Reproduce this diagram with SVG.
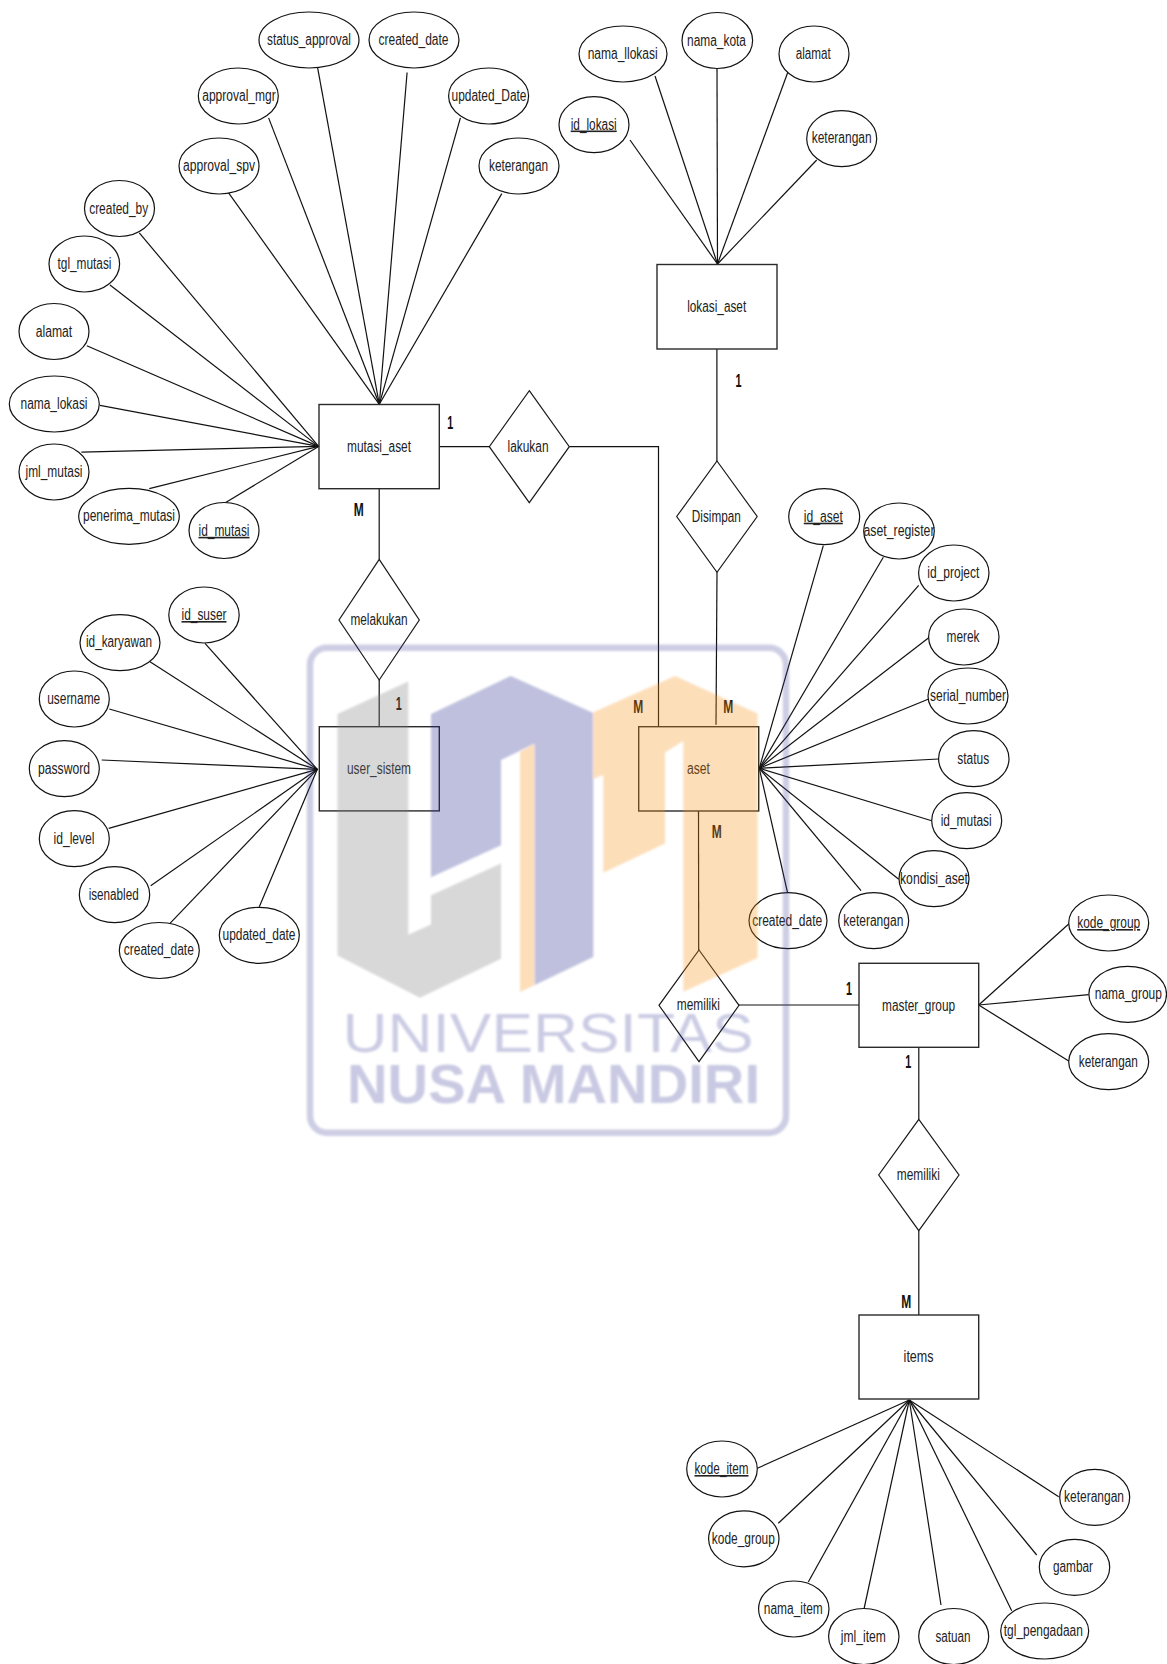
<svg xmlns="http://www.w3.org/2000/svg" width="1167" height="1664" viewBox="0 0 1167 1664">
<style>
.bg{fill:#fff}
.e{fill:#fff;stroke:#111;stroke-width:1.2}
.r{fill:#fff;stroke:#2a2a2a;stroke-width:1.4}
.d{fill:#fff;stroke:#1a1a1a;stroke-width:1.2}
.c line,.c polyline{fill:none;stroke:#111;stroke-width:1.2}
text{font-family:"Liberation Sans",Arial,sans-serif;font-size:16px;fill:#222;text-anchor:middle}
.u{text-decoration:underline}
.k{font-weight:700;font-size:18px;fill:#111}
</style>
<defs><filter id="soft" x="-2%" y="-2%" width="104%" height="104%"><feGaussianBlur stdDeviation="0.8"/></filter></defs>
<rect class="bg" width="1167" height="1664"/>
<g id="connectors" class="c">
<line x1="228.6" y1="192.9" x2="379.3" y2="404.3"/>
<line x1="268.6" y1="117.9" x2="379.3" y2="404.3"/>
<line x1="317.5" y1="67.1" x2="379.3" y2="404.3"/>
<line x1="407.1" y1="72.5" x2="379.3" y2="404.3"/>
<line x1="460.4" y1="117.9" x2="379.3" y2="404.3"/>
<line x1="501.8" y1="193.6" x2="379.3" y2="404.3"/>
<line x1="139.3" y1="232.9" x2="318.6" y2="446.4"/>
<line x1="110" y1="285" x2="318.6" y2="446.4"/>
<line x1="86.8" y1="345.7" x2="318.6" y2="446.4"/>
<line x1="100" y1="405.4" x2="318.6" y2="446.4"/>
<line x1="81.4" y1="452.1" x2="318.6" y2="446.4"/>
<line x1="149.3" y1="488.6" x2="318.6" y2="446.4"/>
<line x1="225.7" y1="502.5" x2="318.6" y2="446.4"/>
<line x1="630" y1="140" x2="717.5" y2="264"/>
<line x1="655" y1="76" x2="717.5" y2="264"/>
<line x1="717" y1="69" x2="717.5" y2="264"/>
<line x1="789" y1="69" x2="717.5" y2="264"/>
<line x1="816.7" y1="160" x2="717.5" y2="264"/>
<line x1="823.3" y1="545.7" x2="759.3" y2="768.3"/>
<line x1="883.3" y1="557.3" x2="759.3" y2="768.3"/>
<line x1="918.7" y1="585.3" x2="759.3" y2="768.3"/>
<line x1="928.7" y1="637.7" x2="759.3" y2="768.3"/>
<line x1="928.7" y1="699" x2="759.3" y2="768.3"/>
<line x1="938.7" y1="759" x2="759.3" y2="768.3"/>
<line x1="931.7" y1="820.7" x2="759.3" y2="768.3"/>
<line x1="898.7" y1="879.3" x2="759.3" y2="768.3"/>
<line x1="861" y1="890.7" x2="759.3" y2="768.3"/>
<line x1="787.7" y1="893.3" x2="759.3" y2="768.3"/>
<line x1="205" y1="643.3" x2="317.3" y2="769.3"/>
<line x1="150" y1="661.7" x2="317.3" y2="769.3"/>
<line x1="109.3" y1="709" x2="317.3" y2="769.3"/>
<line x1="101.7" y1="760" x2="317.3" y2="769.3"/>
<line x1="108.7" y1="828.3" x2="317.3" y2="769.3"/>
<line x1="150.7" y1="885.7" x2="317.3" y2="769.3"/>
<line x1="170" y1="923.3" x2="317.3" y2="769.3"/>
<line x1="259.3" y1="906.7" x2="317.3" y2="769.3"/>
<line x1="978.7" y1="1005" x2="1068.7" y2="924"/>
<line x1="978.7" y1="1005" x2="1088.7" y2="994.7"/>
<line x1="978.7" y1="1005" x2="1068.7" y2="1061"/>
<line x1="909.3" y1="1400" x2="757.3" y2="1468.3"/>
<line x1="909.3" y1="1400" x2="778.3" y2="1523.3"/>
<line x1="909.3" y1="1400" x2="808.3" y2="1582"/>
<line x1="909.3" y1="1400" x2="864" y2="1609"/>
<line x1="909.3" y1="1400" x2="941" y2="1605"/>
<line x1="909.3" y1="1400" x2="1011.7" y2="1610.7"/>
<line x1="909.3" y1="1400" x2="1036.7" y2="1555"/>
<line x1="909.3" y1="1400" x2="1058.7" y2="1496.7"/>
<line x1="439.3" y1="446.7" x2="489.3" y2="446.7"/>
<polyline points="569.3,446.7 658.5,446.7 658.5,726.7"/>
<line x1="379.2" y1="488.7" x2="379.2" y2="559.3"/>
<line x1="379.2" y1="680" x2="379.2" y2="726.7"/>
<line x1="716.9" y1="349" x2="716.9" y2="461"/>
<line x1="717" y1="572.3" x2="716" y2="724.7"/>
<line x1="698.5" y1="811" x2="698.7" y2="950"/>
<line x1="739" y1="1005" x2="859" y2="1005"/>
<line x1="918.8" y1="1047.3" x2="918.8" y2="1119.3"/>
<line x1="918.8" y1="1230.7" x2="918.8" y2="1315"/>
</g>
<g id="mutasi_aset"><rect class="r" x="319" y="404.5" width="120.3" height="84.2"/><text x="379" y="451.8" textLength="64" lengthAdjust="spacingAndGlyphs">mutasi_aset</text></g>
<g id="lokasi_aset"><rect class="r" x="657" y="264.5" width="120" height="84.5"/><text x="716.7" y="311.5" textLength="59" lengthAdjust="spacingAndGlyphs">lokasi_aset</text></g>
<g id="user_sistem"><rect class="r" x="319.3" y="726.7" width="120" height="84.2"/><text x="379" y="774" textLength="64" lengthAdjust="spacingAndGlyphs">user_sistem</text></g>
<g id="aset"><rect class="r" x="638.7" y="726.7" width="120" height="84.3"/><text x="698.5" y="774" textLength="23" lengthAdjust="spacingAndGlyphs">aset</text></g>
<g id="master_group"><rect class="r" x="859" y="963.3" width="119.7" height="84"/><text x="918.6" y="1010.5" textLength="73" lengthAdjust="spacingAndGlyphs">master_group</text></g>
<g id="items"><rect class="r" x="859" y="1315" width="119.7" height="84"/><text x="918.6" y="1362" textLength="30" lengthAdjust="spacingAndGlyphs">items</text></g>
<g id="rel_lakukan"><polygon class="d" points="529.3,390.7 569.3,446.7 529.3,502.7 489.3,446.7"/><text x="528" y="452" textLength="41" lengthAdjust="spacingAndGlyphs">lakukan</text></g>
<g id="rel_melakukan"><polygon class="d" points="379.2,559.3 419.3,620 379.2,680 339,620"/><text x="379" y="625.3" textLength="57" lengthAdjust="spacingAndGlyphs">melakukan</text></g>
<g id="rel_disimpan"><polygon class="d" points="717,461 757.2,516.5 717,572.3 676.7,516.5"/><text x="716.3" y="521.8" textLength="49" lengthAdjust="spacingAndGlyphs">Disimpan</text></g>
<g id="rel_memiliki_aset"><polygon class="d" points="699,950 739,1005.3 699,1061.7 659,1005.3"/><text x="698.3" y="1010.3" textLength="43" lengthAdjust="spacingAndGlyphs">memiliki</text></g>
<g id="rel_memiliki_items"><polygon class="d" points="918.8,1119.3 959,1175 918.8,1230.7 878.7,1175"/><text x="918.3" y="1180.3" textLength="43" lengthAdjust="spacingAndGlyphs">memiliki</text></g>
<g id="a_status_approval"><ellipse class="e" cx="309" cy="40" rx="50" ry="28"/><text x="309" y="45.3" textLength="84" lengthAdjust="spacingAndGlyphs">status_approval</text></g>
<g id="a_created_date_m"><ellipse class="e" cx="414" cy="40" rx="45" ry="28"/><text x="413.5" y="45.3" textLength="70" lengthAdjust="spacingAndGlyphs">created_date</text></g>
<g id="a_approval_mgr"><ellipse class="e" cx="238.3" cy="96" rx="40" ry="28"/><text x="239" y="101.3" textLength="73.5" lengthAdjust="spacingAndGlyphs">approval_mgr</text></g>
<g id="a_updated_Date"><ellipse class="e" cx="488.6" cy="96" rx="40" ry="28"/><text x="489" y="101.3" textLength="75" lengthAdjust="spacingAndGlyphs">updated_Date</text></g>
<g id="a_approval_spv"><ellipse class="e" cx="219" cy="166" rx="40" ry="28"/><text x="219" y="171.3" textLength="72" lengthAdjust="spacingAndGlyphs">approval_spv</text></g>
<g id="a_keterangan_m"><ellipse class="e" cx="519" cy="166" rx="40" ry="28"/><text x="518.5" y="171.3" textLength="59" lengthAdjust="spacingAndGlyphs">keterangan</text></g>
<g id="a_created_by"><ellipse class="e" cx="119.5" cy="208.5" rx="35" ry="28"/><text x="118.7" y="213.8" textLength="59" lengthAdjust="spacingAndGlyphs">created_by</text></g>
<g id="a_tgl_mutasi"><ellipse class="e" cx="84.3" cy="264" rx="35.3" ry="28"/><text x="84.5" y="269.3" textLength="54" lengthAdjust="spacingAndGlyphs">tgl_mutasi</text></g>
<g id="a_alamat_m"><ellipse class="e" cx="54" cy="331.5" rx="35" ry="28"/><text x="54" y="336.8" textLength="36.5" lengthAdjust="spacingAndGlyphs">alamat</text></g>
<g id="a_nama_lokasi"><ellipse class="e" cx="54.3" cy="404" rx="45" ry="28"/><text x="54" y="409.3" textLength="67" lengthAdjust="spacingAndGlyphs">nama_lokasi</text></g>
<g id="a_jml_mutasi"><ellipse class="e" cx="54" cy="472" rx="35" ry="28"/><text x="54" y="477.3" textLength="57" lengthAdjust="spacingAndGlyphs">jml_mutasi</text></g>
<g id="a_penerima_mutasi"><ellipse class="e" cx="129" cy="516.3" rx="50.3" ry="28"/><text x="129" y="521.3" textLength="92" lengthAdjust="spacingAndGlyphs">penerima_mutasi</text></g>
<g id="a_id_mutasi_m"><ellipse class="e" cx="224" cy="530.5" rx="35" ry="28"/><text class="u" x="224" y="535.8" textLength="51" lengthAdjust="spacingAndGlyphs">id_mutasi</text></g>
<g id="a_nama_llokasi"><ellipse class="e" cx="623" cy="54" rx="44" ry="28"/><text x="622.7" y="59" textLength="70" lengthAdjust="spacingAndGlyphs">nama_llokasi</text></g>
<g id="a_nama_kota"><ellipse class="e" cx="717.3" cy="40.5" rx="35.3" ry="28"/><text x="716.5" y="45.5" textLength="59" lengthAdjust="spacingAndGlyphs">nama_kota</text></g>
<g id="a_alamat_l"><ellipse class="e" cx="814" cy="54" rx="35" ry="28"/><text x="813.3" y="59" textLength="35" lengthAdjust="spacingAndGlyphs">alamat</text></g>
<g id="a_id_lokasi"><ellipse class="e" cx="594" cy="124.7" rx="35" ry="28"/><text class="u" x="593.7" y="129.5" textLength="46" lengthAdjust="spacingAndGlyphs">id_lokasi</text></g>
<g id="a_keterangan_l"><ellipse class="e" cx="841.7" cy="138.7" rx="35" ry="28"/><text x="841.7" y="143.3" textLength="60" lengthAdjust="spacingAndGlyphs">keterangan</text></g>
<g id="a_id_aset"><ellipse class="e" cx="824.2" cy="516.7" rx="35.5" ry="28"/><text class="u" x="823.3" y="521.7" textLength="39" lengthAdjust="spacingAndGlyphs">id_aset</text></g>
<g id="a_aset_register"><ellipse class="e" cx="899" cy="531" rx="35.3" ry="28"/><text x="899" y="535.5" textLength="71" lengthAdjust="spacingAndGlyphs">aset_register</text></g>
<g id="a_id_project"><ellipse class="e" cx="953.8" cy="573" rx="35.2" ry="28"/><text x="953.3" y="577.5" textLength="52" lengthAdjust="spacingAndGlyphs">id_project</text></g>
<g id="a_merek"><ellipse class="e" cx="963.8" cy="637" rx="35.2" ry="28"/><text x="963" y="642" textLength="33" lengthAdjust="spacingAndGlyphs">merek</text></g>
<g id="a_serial_number"><ellipse class="e" cx="968" cy="696" rx="40" ry="28"/><text x="968" y="700.5" textLength="76" lengthAdjust="spacingAndGlyphs">serial_number</text></g>
<g id="a_status"><ellipse class="e" cx="973.8" cy="758.7" rx="35.2" ry="28"/><text x="973.2" y="763.5" textLength="32" lengthAdjust="spacingAndGlyphs">status</text></g>
<g id="a_id_mutasi_a"><ellipse class="e" cx="966.7" cy="820.7" rx="35" ry="28"/><text x="966.2" y="825.5" textLength="51" lengthAdjust="spacingAndGlyphs">id_mutasi</text></g>
<g id="a_kondisi_aset"><ellipse class="e" cx="934" cy="878.7" rx="35" ry="28"/><text x="934" y="883.5" textLength="68" lengthAdjust="spacingAndGlyphs">kondisi_aset</text></g>
<g id="a_keterangan_a"><ellipse class="e" cx="873.7" cy="920.7" rx="35" ry="28"/><text x="873.3" y="925.7" textLength="60" lengthAdjust="spacingAndGlyphs">keterangan</text></g>
<g id="a_created_date_a"><ellipse class="e" cx="788" cy="920.7" rx="39" ry="28"/><text x="787.2" y="925.7" textLength="70" lengthAdjust="spacingAndGlyphs">created_date</text></g>
<g id="a_id_suser"><ellipse class="e" cx="204" cy="615" rx="35.2" ry="28"/><text class="u" x="204" y="620" textLength="45" lengthAdjust="spacingAndGlyphs">id_suser</text></g>
<g id="a_id_karyawan"><ellipse class="e" cx="120" cy="642.7" rx="40" ry="28"/><text x="119" y="647.2" textLength="66" lengthAdjust="spacingAndGlyphs">id_karyawan</text></g>
<g id="a_username"><ellipse class="e" cx="74.3" cy="699" rx="35" ry="28"/><text x="73.7" y="703.7" textLength="53" lengthAdjust="spacingAndGlyphs">username</text></g>
<g id="a_password"><ellipse class="e" cx="64.3" cy="768.7" rx="35" ry="28"/><text x="64" y="773.7" textLength="52" lengthAdjust="spacingAndGlyphs">password</text></g>
<g id="a_id_level"><ellipse class="e" cx="74.3" cy="838.7" rx="35" ry="28"/><text x="74" y="843.5" textLength="41" lengthAdjust="spacingAndGlyphs">id_level</text></g>
<g id="a_isenabled"><ellipse class="e" cx="114.5" cy="894.7" rx="35.2" ry="28"/><text x="113.7" y="899.5" textLength="50" lengthAdjust="spacingAndGlyphs">isenabled</text></g>
<g id="a_created_date_u"><ellipse class="e" cx="159.3" cy="950.5" rx="40" ry="28"/><text x="158.8" y="955.2" textLength="70" lengthAdjust="spacingAndGlyphs">created_date</text></g>
<g id="a_updated_date"><ellipse class="e" cx="259.3" cy="935.3" rx="40" ry="28"/><text x="259" y="940" textLength="73" lengthAdjust="spacingAndGlyphs">updated_date</text></g>
<g id="a_kode_group_g"><ellipse class="e" cx="1108.7" cy="923" rx="40" ry="28"/><text class="u" x="1108.7" y="928" textLength="63" lengthAdjust="spacingAndGlyphs">kode_group</text></g>
<g id="a_nama_group"><ellipse class="e" cx="1127.7" cy="994.3" rx="38.8" ry="28"/><text x="1128.3" y="999.3" textLength="67" lengthAdjust="spacingAndGlyphs">nama_group</text></g>
<g id="a_keterangan_g"><ellipse class="e" cx="1108.7" cy="1061.7" rx="40" ry="28"/><text x="1108.3" y="1066.7" textLength="59" lengthAdjust="spacingAndGlyphs">keterangan</text></g>
<g id="a_kode_item"><ellipse class="e" cx="722" cy="1469" rx="35.3" ry="28"/><text class="u" x="721.5" y="1474" textLength="54" lengthAdjust="spacingAndGlyphs">kode_item</text></g>
<g id="a_kode_group_i"><ellipse class="e" cx="743.8" cy="1538.8" rx="35.2" ry="28"/><text x="743.3" y="1543.5" textLength="63" lengthAdjust="spacingAndGlyphs">kode_group</text></g>
<g id="a_nama_item"><ellipse class="e" cx="793.8" cy="1609" rx="35.2" ry="28"/><text x="793.3" y="1614" textLength="59" lengthAdjust="spacingAndGlyphs">nama_item</text></g>
<g id="a_jml_item"><ellipse class="e" cx="863.8" cy="1636.5" rx="35.2" ry="28"/><text x="863.3" y="1641.5" textLength="45" lengthAdjust="spacingAndGlyphs">jml_item</text></g>
<g id="a_satuan"><ellipse class="e" cx="953.7" cy="1636.5" rx="35" ry="28"/><text x="953" y="1641.5" textLength="35" lengthAdjust="spacingAndGlyphs">satuan</text></g>
<g id="a_tgl_pengadaan"><ellipse class="e" cx="1044.7" cy="1631" rx="44" ry="28"/><text x="1043.3" y="1635.5" textLength="79" lengthAdjust="spacingAndGlyphs">tgl_pengadaan</text></g>
<g id="a_gambar"><ellipse class="e" cx="1074.5" cy="1567.3" rx="35.2" ry="28"/><text x="1073" y="1572.3" textLength="40" lengthAdjust="spacingAndGlyphs">gambar</text></g>
<g id="a_keterangan_i"><ellipse class="e" cx="1094.7" cy="1497.3" rx="35" ry="28"/><text x="1094" y="1502" textLength="60" lengthAdjust="spacingAndGlyphs">keterangan</text></g>
<g id="cardinalities">
<text class="k" x="450.3" y="429.2" textLength="6" lengthAdjust="spacingAndGlyphs">1</text>
<text class="k" x="358.7" y="516" textLength="10" lengthAdjust="spacingAndGlyphs">M</text>
<text class="k" x="398.7" y="709.5" textLength="6" lengthAdjust="spacingAndGlyphs">1</text>
<text class="k" x="738.4" y="386.7" textLength="6" lengthAdjust="spacingAndGlyphs">1</text>
<text class="k" x="638.3" y="712.7" textLength="10" lengthAdjust="spacingAndGlyphs">M</text>
<text class="k" x="728.3" y="712.7" textLength="10" lengthAdjust="spacingAndGlyphs">M</text>
<text class="k" x="716.7" y="838.2" textLength="10" lengthAdjust="spacingAndGlyphs">M</text>
<text class="k" x="849" y="995" textLength="6" lengthAdjust="spacingAndGlyphs">1</text>
<text class="k" x="908.3" y="1068.4" textLength="6" lengthAdjust="spacingAndGlyphs">1</text>
<text class="k" x="906.3" y="1307.7" textLength="10" lengthAdjust="spacingAndGlyphs">M</text>
</g>
<g id="watermark" opacity="0.3" filter="url(#soft)">
<rect x="310" y="647.7" width="476" height="485" rx="17" fill="none" stroke="#3F4296" stroke-width="6.5" opacity="0.85"/>
<polygon fill="#808080" points="337.5,714 408.3,681.5 408.3,934.8 431,924.4 431,895.2 501,863.6 501,958.8 420,997.7 337.5,955.4"/>
<polygon fill="#2E3192" points="431,714 510.7,676 593.3,713 593.3,957 534.3,985.3 534.3,744 501,760 501,845.3 431,877.3"/>
<polygon fill="#F7941D" points="520,751.7 534.3,744 534.3,985.3 520,992"/>
<polygon fill="#F7941D" points="593.3,712.2 675,676 757.5,713.6 757.5,958 683.3,991.7 683.3,741 665,752.4 665,843.6 603.3,872.8 603.3,774.8 593.3,778.9"/>
<text x="548" y="1051.5" style="font-size:55px;fill:#2E3192" opacity="0.8" textLength="411" lengthAdjust="spacingAndGlyphs">UNIVERSITAS</text>
<text x="553.5" y="1103" style="font-size:55px;font-weight:700;fill:#2E3192" opacity="0.85" textLength="413" lengthAdjust="spacingAndGlyphs">NUSA MANDIRI</text>
</g>
</svg>
